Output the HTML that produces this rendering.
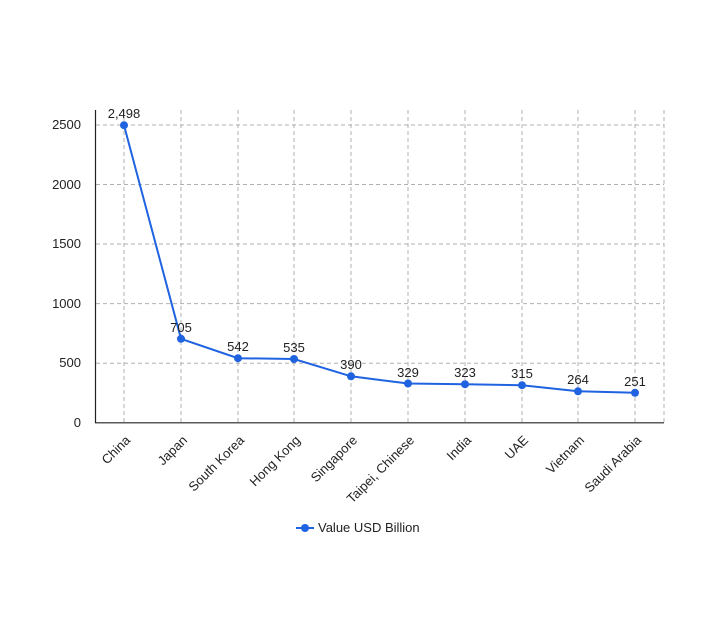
<!DOCTYPE html>
<html><head><meta charset="utf-8"><style>
body{margin:0;background:#fff;}
text{font-family:"Liberation Sans",sans-serif;fill:#222;}
</style></head><body>
<svg width="707" height="623" xmlns="http://www.w3.org/2000/svg">
<g stroke="#b0b0b0" stroke-dasharray="4,3" stroke-width="1">
<line x1="96" y1="125" x2="664" y2="125"/>
<line x1="96" y1="184.5" x2="664" y2="184.5"/>
<line x1="96" y1="244" x2="664" y2="244"/>
<line x1="96" y1="303.6" x2="664" y2="303.6"/>
<line x1="96" y1="363.2" x2="664" y2="363.2"/>
<line x1="124" y1="110" x2="124" y2="423"/>
<line x1="181" y1="110" x2="181" y2="423"/>
<line x1="238" y1="110" x2="238" y2="423"/>
<line x1="294" y1="110" x2="294" y2="423"/>
<line x1="351" y1="110" x2="351" y2="423"/>
<line x1="408" y1="110" x2="408" y2="423"/>
<line x1="465" y1="110" x2="465" y2="423"/>
<line x1="522" y1="110" x2="522" y2="423"/>
<line x1="578" y1="110" x2="578" y2="423"/>
<line x1="635" y1="110" x2="635" y2="423"/>
<line x1="664" y1="110" x2="664" y2="423"/>
</g>
<line x1="95.5" y1="110" x2="95.5" y2="423" stroke="#222" stroke-width="1.2"/>
<line x1="95" y1="422.8" x2="664" y2="422.8" stroke="#222" stroke-width="1.2"/>
<g font-size="13" text-anchor="end">
<text x="81" y="129">2500</text>
<text x="81" y="189">2000</text>
<text x="81" y="248">1500</text>
<text x="81" y="308">1000</text>
<text x="81" y="367">500</text>
<text x="81" y="427">0</text>
</g>
<polyline fill="none" stroke="#1f63e0" stroke-width="2" points="124,125.2 181,338.8 238,358.2 294,359 351,376.3 408,383.5 465,384.2 522,385.2 578,391.3 635,392.8"/>
<g fill="#1f63e0">
<circle cx="124" cy="125.2" r="4"/><circle cx="181" cy="338.8" r="4"/><circle cx="238" cy="358.2" r="4"/><circle cx="294" cy="359" r="4"/><circle cx="351" cy="376.3" r="4"/><circle cx="408" cy="383.5" r="4"/><circle cx="465" cy="384.2" r="4"/><circle cx="522" cy="385.2" r="4"/><circle cx="578" cy="391.3" r="4"/><circle cx="635" cy="392.8" r="4"/>
</g>
<g font-size="13" text-anchor="middle">
<text x="124" y="118">2,498</text><text x="181" y="332">705</text><text x="238" y="351">542</text><text x="294" y="352">535</text><text x="351" y="369">390</text><text x="408" y="377">329</text><text x="465" y="377">323</text><text x="522" y="378">315</text><text x="578" y="384">264</text><text x="635" y="386">251</text>
</g>
<g font-size="13" text-anchor="end">
<text transform="translate(131,441) rotate(-45)">China</text>
<text transform="translate(188,441) rotate(-45)">Japan</text>
<text transform="translate(245,441) rotate(-45)">South Korea</text>
<text transform="translate(301,441) rotate(-45)">Hong Kong</text>
<text transform="translate(358,441) rotate(-45)">Singapore</text>
<text transform="translate(415,441) rotate(-45)">Taipei, Chinese</text>
<text transform="translate(472,441) rotate(-45)">India</text>
<text transform="translate(529,441) rotate(-45)">UAE</text>
<text transform="translate(585,441) rotate(-45)">Vietnam</text>
<text transform="translate(642,441) rotate(-45)">Saudi Arabia</text>
</g>
<line x1="296" y1="528" x2="314" y2="528" stroke="#1f63e0" stroke-width="2"/>
<circle cx="305" cy="528" r="4" fill="#1f63e0"/>
<text x="318" y="532" font-size="13">Value USD Billion</text>
</svg>
</body></html>
